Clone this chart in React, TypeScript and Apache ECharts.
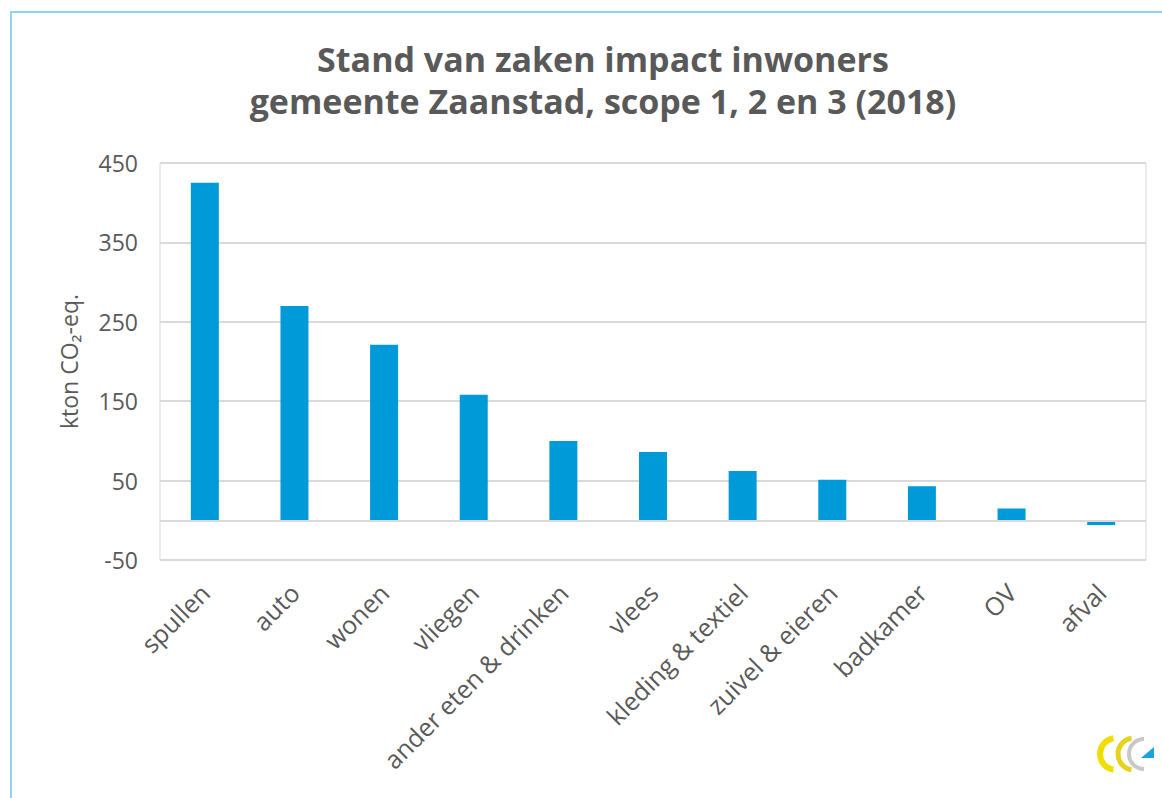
import React, { useEffect, useRef } from "react";
import * as echarts from "echarts";

const titleLines = ["Stand van zaken impact inwoners", "gemeente Zaanstad, scope 1, 2 en 3 (2018)"];
const categories = [
  "spullen",
  "auto",
  "wonen",
  "vliegen",
  "ander eten & drinken",
  "vlees",
  "kleding & textiel",
  "zuivel & eieren",
  "badkamer",
  "OV",
  "afval",
];
const values = [425, 270, 221, 158, 100, 86, 62, 51, 43, 15, -6];
const yMin = -50;
const yMax = 450;
const yInterval = 100;
const yName = "kton CO₂-eq.";

const FONT = "'Open Sans', 'Noto Sans', sans-serif";
const GREY = "#595959";

export default function App() {
  const ref = useRef<HTMLDivElement>(null);
  useEffect(() => {
    document.body.style.margin = "0";
    if (!ref.current) return;
    const chart = echarts.init(ref.current, undefined, { renderer: "svg" });
    chart.setOption({
      animation: false,
      backgroundColor: "#ffffff",
      title: {
        text: titleLines.join("\n"),
        left: 598,
        top: 33,
        textAlign: "center",
        textStyle: {
          fontFamily: FONT,
          fontSize: 34,
          fontWeight: "bold",
          color: GREY,
          lineHeight: 42,
        },
      },
      grid: {
        left: 160,
        right: 16,
        top: 163,
        bottom: 238,
        show: true,
        borderColor: "#d9d9d9",
        borderWidth: 1,
        containLabel: false,
      },
      xAxis: {
        type: "category",
        data: categories,
        axisLine: { show: false },
        axisTick: { show: false },
        axisLabel: {
          rotate: 45,
          interval: 0,
          margin: 28,
          fontFamily: FONT,
          fontSize: 25,
          color: GREY,
        },
      },
      yAxis: {
        type: "value",
        min: yMin,
        max: yMax,
        interval: yInterval,
        name: yName,
        nameLocation: "middle",
        nameGap: 80,
        nameRotate: 90,
        nameTextStyle: { fontFamily: FONT, fontSize: 23, color: GREY },
        axisLine: { show: false },
        axisTick: { show: false },
        axisLabel: { margin: 22, fontFamily: FONT, fontSize: 23, color: GREY },
        splitLine: { lineStyle: { color: "#d9d9d9", width: 2 } },
      },
      series: [
        {
          type: "bar",
          data: values,
          barWidth: 28,
          itemStyle: { color: "#009ad8" },
          markLine: {
            silent: true,
            symbol: "none",
            label: { show: false },
            lineStyle: { color: "#d9d9d9", width: 2, type: "solid" },
            data: [{ yAxis: 0 }],
          },
        },
      ],
      graphic: [
        { type: "rect", shape: { x: 10, y: 11, width: 2, height: 800 }, style: { fill: "#8fd4f0" } },
        { type: "rect", shape: { x: 10, y: 11, width: 1160, height: 2 }, style: { fill: "#8fd4f0" } },
        {
          type: "group",
          x: 1100,
          y: 736,
          children: [
            { type: "arc", shape: { cx: 16, cy: 18, r: 16, startAngle: Math.PI * 0.55, endAngle: Math.PI * 1.45 }, style: { stroke: "#f2dd00", lineWidth: 6, fill: null } },
            { type: "arc", shape: { cx: 34, cy: 18, r: 16, startAngle: Math.PI * 0.55, endAngle: Math.PI * 1.45 }, style: { stroke: "#e6d21a", lineWidth: 5, fill: null } },
            { type: "arc", shape: { cx: 44, cy: 18, r: 15, startAngle: Math.PI * 0.5, endAngle: Math.PI * 1.5 }, style: { stroke: "#c8c8c8", lineWidth: 4, fill: null } },
            { type: "polygon", shape: { points: [[41, 22], [54, 22], [54, 11]] }, style: { fill: "#1aa3e0" } },
          ],
        },
      ],
    });
    return () => chart.dispose();
  }, []);
  return <div ref={ref} style={{ width: 1162, height: 798 }} />;
}
